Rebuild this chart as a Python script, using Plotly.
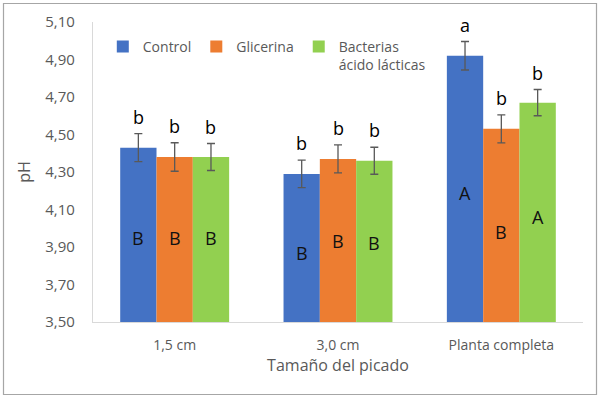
import plotly.graph_objects as go

categories = ["1,5 cm", "3,0 cm", "Planta completa"]
series_names = ["Control", "Glicerina", "Bacterias<br>ácido lácticas"]
colors = ["#4472C4", "#ED7D31", "#92D050"]

control = [4.43, 4.29, 4.92]
glicerina = [4.38, 4.37, 4.53]
bacterias = [4.38, 4.36, 4.67]
values = [control, glicerina, bacterias]

control_err = [0.075, 0.073, 0.076]
glicerina_err = [0.076, 0.075, 0.075]
bacterias_err = [0.072, 0.072, 0.07]
errors = [control_err, glicerina_err, bacterias_err]

# significance letters
lower_letters = [["b", "b", "a"], ["b", "b", "b"], ["b", "b", "b"]]
upper_letters = [["B", "B", "A"], ["B", "B", "B"], ["B", "B", "A"]]
upper_letter_y = [[3.95, 3.87, 4.19], [3.95, 3.93, 3.98], [3.95, 3.92, 4.06]]

y_ticks = [3.5, 3.7, 3.9, 4.1, 4.3, 4.5, 4.7, 4.9, 5.1]

FONT = "Open Sans"
GRAY = "#595959"

fig = go.Figure()
for name, col, vals, errs in zip(series_names, colors, values, errors):
    fig.add_trace(go.Bar(
        x=categories, y=vals, name=name, marker=dict(color=col, line=dict(width=0)),
        error_y=dict(type="data", array=errs, visible=True, color="#595959", thickness=1.3, width=4),
    ))

# annotations (letters)
n = len(series_names)
width = 1 - 0.333
bw = width / n
for si in range(n):
    for ci, cat in enumerate(categories):
        xpos = ci - width / 2 + bw * (si + 0.5)
        fig.add_annotation(x=xpos, y=values[si][ci] + errors[si][ci], xref="x", yref="y",
                           text=lower_letters[si][ci], showarrow=False, yanchor="bottom", yshift=3,
                           font=dict(family=FONT, size=18, color="#000000"))
        fig.add_annotation(x=xpos, y=upper_letter_y[si][ci], xref="x", yref="y",
                           text=upper_letters[si][ci], showarrow=False, yanchor="middle",
                           font=dict(family=FONT, size=18, color="#111111"))

# outer frame
L, R, T, B = 93, 18, 22, 77
W, H = 601, 399
pw, ph = W - L - R, H - T - B
fig.add_shape(type="rect", xref="paper", yref="paper",
              x0=(3.5 - L) / pw, x1=(W - 4.5 - L) / pw,
              y0=-(H - 4.5 - (T + ph)) / ph, y1=(T + ph - 3.5) / ph,
              line=dict(color="#a6a6a6", width=1.2), fillcolor="rgba(0,0,0,0)", layer="below")

fig.update_layout(
    width=W, height=H,
    margin=dict(l=L, r=R, t=T, b=B),
    paper_bgcolor="white", plot_bgcolor="white",
    barmode="group", bargap=0.333, bargroupgap=0,
    separators=",.",
    font=dict(family=FONT, color=GRAY, size=14),
    showlegend=True,
    legend=dict(orientation="h", x=0.02, y=0.97, xanchor="left", yanchor="top",
                font=dict(family=FONT, size=14, color=GRAY), valign="top",
                bgcolor="rgba(0,0,0,0)", tracegroupgap=0),
    xaxis=dict(type="category", showline=True, linecolor="#d9d9d9", linewidth=1.2,
               ticks="", showgrid=False, tickfont=dict(size=14, color=GRAY),
               ticklabelstandoff=10,
               title=dict(text="Tamaño del picado", font=dict(size=16, color=GRAY), standoff=4),
               range=[-0.5, 2.5]),
    yaxis=dict(range=[3.5, 5.1], tickvals=y_ticks, tickformat=".2f", showline=True,
               linecolor="#d9d9d9", linewidth=1.2, showgrid=False, zeroline=False, ticks="",
               ticklabelstandoff=14, tickfont=dict(size=15, color=GRAY),
               title=dict(text="pH", font=dict(size=16, color=GRAY), standoff=10)),
)

fig.write_html("out.html", config={"displayModeBar": False},
               post_script="document.body.style.margin='0';")
